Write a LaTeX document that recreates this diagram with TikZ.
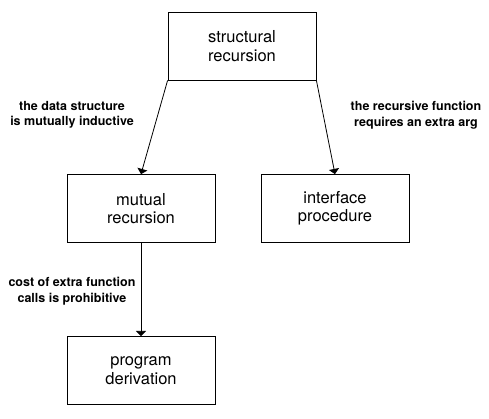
\documentclass[tikz,border=0pt]{standalone}
\usepackage{fontspec}
\setsansfont{TeX Gyre Heros}
\usepackage{tikz}
\usetikzlibrary{shapes.geometric, arrows}
\usetikzlibrary{calc}

\begin{document}
\begin{tikzpicture}[x=1pt, y=-1pt, every node/.style={font=\sffamily},
	box/.style={draw, line width=.8pt, minimum width=148pt, minimum height=68pt, align=center, inner sep=0pt, font=\sffamily\fontsize{16.5}{18.5}\selectfont},
	why/.style={align=center, inner sep=0pt, font=\sffamily\bfseries\fontsize{12.5}{15.5}\selectfont},
	link/.style={line width=.8pt, -triangle 90}]
	\useasboundingbox (0,0) rectangle (489,419);
	%cajas
	\node[box] (structural) at (242,46) {structural\\recursion};
	\node[box] (mutual) at (141,208.5) {mutual\\recursion};
	\node[box] (interface) at (335,208.5) {interface\\procedure};
	\node[box] (derivation) at (141,370.5) {program\\derivation};
	
	%flechas
	\draw[link] (structural.south west) -- (mutual.north);
	\draw[link] (structural.south east) -- (interface.north);
	\draw[link] (mutual.south) -- (derivation.north);
	
	%etiquetas
	\node[why] (inductive) at (72,115) {the data structure\\is mutually inductive};
	\node[why] (extraarg) at (416,115) {the recursive function\\requires an extra arg};
	\node[why] (cost) at (72,291) {cost of extra function\\calls is prohibitive};
\end{tikzpicture}
\end{document}
